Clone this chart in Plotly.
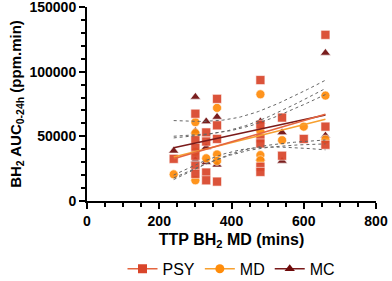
import numpy as np
import plotly.graph_objects as go

# ---- data ----
psy_x = [240, 300, 300, 300, 300, 300, 300, 330, 330, 330, 330, 360, 360, 360, 360,
         480, 480, 480, 480, 480, 480, 540, 540, 600, 660, 660, 660]
psy_y = [32600, 67500, 47000, 41000, 35000, 27000, 21000, 53000, 46000, 22000, 16000,
         79000, 58500, 48000, 15000, 93500, 59000, 48500, 44500, 26500, 22500,
         64500, 35000, 48000, 128500, 57500, 43500]

md_x = [240, 300, 300, 300, 300, 330, 360, 360, 360, 480, 480, 480, 480, 540, 600, 660, 660]
md_y = [20600, 61000, 52500, 38000, 16000, 33000, 72000, 36000, 31000,
        82500, 54000, 35500, 31500, 47000, 57500, 81500, 47500]

mc_x = [240, 300, 300, 300, 330, 330, 330, 360, 360, 480, 480, 540, 540, 660, 660]
mc_y = [38800, 80500, 54000, 31500, 61500, 41500, 30000, 65000, 28000,
        61500, 33000, 53000, 31000, 114500, 50500]

series_names = ["PSY", "MD", "MC"]
x_ticks = [0, 200, 400, 600, 800]
y_ticks = [0, 50000, 100000, 150000]

# ---- styles ----
colors = {"PSY": "#D9452A", "MD": "#FF8C0A", "MC": "#6E0A0A"}
line_colors = {"PSY": "#E4653F", "MD": "#F7A030", "MC": "#7A1A1A"}
symbols = {"PSY": "square", "MD": "circle", "MC": "triangle-up"}
FONT = "Arial, Liberation Sans, Helvetica, sans-serif"


def t_crit(df):
    z = 1.959964
    return (z + (z**3 + z) / (4 * df) + (5 * z**5 + 16 * z**3 + 3 * z) / (96 * df**2)
            + (3 * z**7 + 19 * z**5 + 17 * z**3 - 15 * z) / (384 * df**3))


def fit(x, y):
    x = np.asarray(x, float)
    y = np.asarray(y, float)
    n = len(x)
    b, a = np.polyfit(x, y, 1)
    res = y - (a + b * x)
    s = np.sqrt(np.sum(res**2) / (n - 2))
    sxx = np.sum((x - x.mean())**2)
    xs = np.linspace(x.min(), x.max(), 60)
    yh = a + b * xs
    half = t_crit(n - 2) * s * np.sqrt(1 / n + (xs - x.mean())**2 / sxx)
    return xs, yh, yh - half, yh + half


data = {"PSY": (psy_x, psy_y), "MD": (md_x, md_y), "MC": (mc_x, mc_y)}

fig = go.Figure()

# markers (MC, MD, PSY so squares sit on top)
for name in ["MC", "MD", "PSY"]:
    x, y = data[name]
    fig.add_trace(go.Scatter(
        x=x, y=y, mode="markers", showlegend=False,
        marker=dict(symbol=symbols[name], size=9, color=colors[name], opacity=0.92,
                    line=dict(color="rgba(255,255,255,0.6)", width=1))))

# confidence bands
for name in ["PSY", "MD", "MC"]:
    x, y = data[name]
    xs, yh, lo, hi = fit(x, y)
    for band in (lo, hi):
        fig.add_trace(go.Scatter(x=xs, y=band, mode="lines", showlegend=False,
                                 line=dict(color="#666666", width=1, dash="dot")))

# fit lines
for name in ["MD", "MC", "PSY"]:
    x, y = data[name]
    xs, yh, lo, hi = fit(x, y)
    fig.add_trace(go.Scatter(x=xs, y=yh, mode="lines", showlegend=False,
                             line=dict(color=line_colors[name], width=1.6)))

# legend entries
for name in series_names:
    fig.add_trace(go.Scatter(
        x=[None], y=[None], mode="lines+markers", name=name,
        line=dict(color=line_colors[name], width=1.6),
        marker=dict(symbol=symbols[name], size=9, color=colors[name])))

axis_common = dict(showgrid=False, zeroline=False, showline=True, linecolor="black",
                   linewidth=2, ticks="outside", ticklen=6, tickwidth=2, tickcolor="black",
                   automargin=False, ticklabeloverflow="allow",
                   tickfont=dict(family=FONT, size=14, color="black", weight="bold"))

fig.update_xaxes(range=[0, 800], tickvals=x_ticks,
                 minor=dict(dtick=50, ticks="outside", ticklen=4, tickwidth=1.5, tickcolor="black"),
                 title=dict(text="TTP BH<sub>2</sub> MD (mins)", standoff=6,
                            font=dict(family=FONT, size=16, color="black", weight="bold")),
                 **axis_common)
fig.update_yaxes(range=[0, 150000], tickvals=y_ticks, tickformat="d",
                 minor=dict(dtick=10000, ticks="outside", ticklen=4, tickwidth=1.5, tickcolor="black"),
                 title=dict(text="BH<sub>2</sub> AUC<sub>0-24h</sub> (ppm.min)", standoff=4,
                            font=dict(family=FONT, size=15, color="black", weight="bold")),
                 **axis_common)

fig.update_layout(
    width=392, height=281,
    margin=dict(l=87, r=16, t=7, b=80, autoexpand=False),
    plot_bgcolor="white", paper_bgcolor="white",
    font=dict(family=FONT, color="black"),
    legend=dict(orientation="h", x=0.5, xanchor="center", y=-0.35, yanchor="middle",
                font=dict(family=FONT, size=16, color="black"), itemwidth=30),
)

fig.write_html("out.html", config={"displayModeBar": False},
               post_script="document.body.style.margin='0';document.body.style.padding='0';")
